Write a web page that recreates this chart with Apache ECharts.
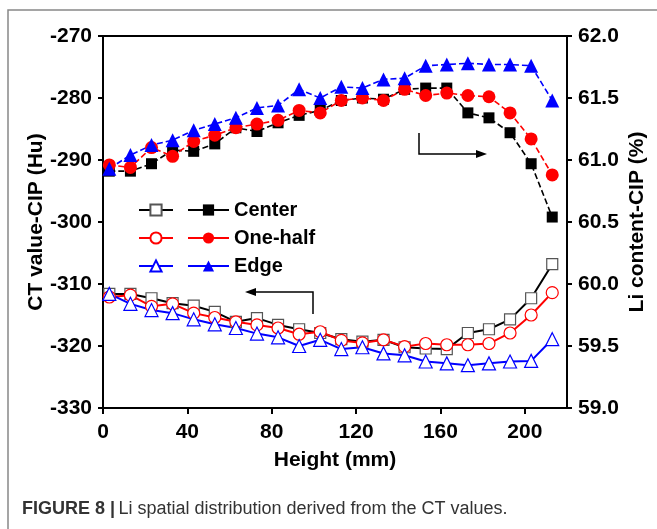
<!DOCTYPE html>
<html>
<head>
<meta charset="utf-8">
<script src="https://cdn.jsdelivr.net/npm/echarts@6/dist/echarts.min.js"></script>
<style>
  html, body { margin: 0; padding: 0; background: #fff; }
  #chart { width: 657px; height: 529px; }
</style>
</head>
<body>
<div id="chart"></div>
<script>
// height along the sample (mm)
var heights = [3, 13, 23, 33, 43, 53, 63, 73, 83, 93, 103, 113, 123, 133, 143, 153, 163, 173, 183, 193, 203, 213]
var xTicks = [0, 40, 80, 120, 160, 200]

// CT value-CIP (Hu), open symbols, left axis
var ctCenter = [-311.6, -311.6, -312.3, -313.1, -313.5, -314.5, -316.1, -315.5, -316.6, -317.3, -317.9, -318.9, -319.3, -319.0, -320.2, -320.4, -320.5, -317.9, -317.3, -315.7, -312.3, -306.8]
var ctHalf = [-312.1, -311.8, -313.6, -313.2, -314.7, -315.4, -316.1, -316.6, -317.1, -318.1, -317.7, -319.1, -319.5, -319.0, -320.1, -319.6, -319.8, -319.8, -319.6, -317.9, -315.0, -311.4]
var ctEdge = [-311.6, -313.2, -314.2, -314.7, -315.7, -316.5, -317.1, -318.0, -318.6, -320.0, -319.0, -320.5, -320.2, -321.2, -321.5, -322.5, -322.8, -323.1, -322.8, -322.5, -322.4, -318.9]

// Li content-CIP (%), filled symbols, right axis
var liCenter = [60.91, 60.91, 60.97, 61.08, 61.07, 61.13, 61.26, 61.23, 61.30, 61.36, 61.40, 61.48, 61.50, 61.49, 61.57, 61.58, 61.58, 61.38, 61.34, 61.22, 60.97, 60.54]
var liHalf = [60.96, 60.94, 61.10, 61.03, 61.15, 61.20, 61.26, 61.29, 61.32, 61.40, 61.38, 61.48, 61.50, 61.48, 61.57, 61.52, 61.54, 61.52, 61.51, 61.38, 61.17, 60.88]
var liEdge = [60.93, 61.04, 61.12, 61.16, 61.24, 61.29, 61.34, 61.42, 61.44, 61.57, 61.50, 61.59, 61.58, 61.65, 61.66, 61.76, 61.77, 61.78, 61.77, 61.77, 61.76, 61.48]

var FONT = 'Liberation Sans, Arial, sans-serif'

function pairs (vals) {
  return heights.map(function (h, i) { return [h, vals[i]] })
}

// open symbol series (CT)
function ctSeries (name, vals, color, symbol, size, border) {
  return {
    name: name,
    type: 'line',
    yAxisIndex: 0,
    data: pairs(vals),
    symbol: symbol,
    symbolSize: size,
    z: 3,
    lineStyle: { color: color, width: 2 },
    itemStyle: { color: '#fff', borderColor: border || color, borderWidth: 1.2 }
  }
}

// filled symbol series (Li), dashed line
function liSeries (name, vals, color, symbol, size) {
  return {
    name: name,
    type: 'line',
    yAxisIndex: 1,
    data: pairs(vals),
    symbol: symbol,
    symbolSize: size,
    z: 4,
    lineStyle: { color: color, width: 1.6, type: [6, 3] },
    itemStyle: { color: color, borderColor: color, borderWidth: 0 }
  }
}

var chart = echarts.init(document.getElementById('chart'))

chart.setOption({
  animation: false,
  backgroundColor: '#fff',
  textStyle: { fontFamily: FONT },
  grid: {
    left: 103, right: 90, top: 36, bottom: 121,
    show: true, borderColor: '#000', borderWidth: 2, backgroundColor: 'transparent'
  },
  legend: [
    {
      data: ['Center ', 'One-half ', 'Edge '],
      orient: 'vertical',
      left: 133, top: 195,
      itemWidth: 34, itemHeight: 14, itemGap: 8,
      formatter: function () { return ' ' },
      textStyle: { fontSize: 20, fontWeight: 'bold' },
      lineStyle: { type: 'solid' },
      selectedMode: false
    },
    {
      data: ['Center', 'One-half', 'Edge'],
      orient: 'vertical',
      left: 182, top: 195,
      itemWidth: 41, itemHeight: 14, itemGap: 8,
      textStyle: { fontSize: 20, fontWeight: 'bold', color: '#000', fontFamily: FONT },
      lineStyle: { type: 'solid' },
      selectedMode: false
    }
  ],
  xAxis: {
    type: 'value',
    min: 0, max: 220, interval: 40,
    name: 'Height (mm)',
    nameLocation: 'middle',
    nameGap: 42,
    nameMoveOverlap: false,
    nameTextStyle: { fontSize: 21, fontWeight: 'bold', color: '#000', fontFamily: FONT },
    axisLine: { lineStyle: { color: '#000', width: 2 } },
    axisTick: { inside: false, length: 6, lineStyle: { width: 2 }, customValues: xTicks },
    axisLabel: { customValues: xTicks, fontSize: 21, fontWeight: 'bold', color: '#000', margin: 14, fontFamily: FONT },
    splitLine: { show: false }
  },
  yAxis: [
    {
      type: 'value',
      position: 'left',
      min: -330, max: -270, interval: 10,
      name: 'CT value-CIP (Hu)',
      nameLocation: 'middle',
      nameRotate: 90,
      nameGap: 56,
      nameMoveOverlap: false,
      nameTextStyle: { fontSize: 21, fontWeight: 'bold', color: '#000', fontFamily: FONT },
      axisLine: { show: true, lineStyle: { color: '#000', width: 2 } },
      axisTick: { show: true, length: 5, lineStyle: { width: 2 } },
      axisLabel: { fontSize: 21, fontWeight: 'bold', color: '#000', margin: 11, fontFamily: FONT },
      splitLine: { show: false }
    },
    {
      type: 'value',
      position: 'right',
      min: 59, max: 62, interval: 0.5,
      name: 'Li content-CIP (%)',
      nameLocation: 'middle',
      nameRotate: 90,
      nameGap: 60,
      nameMoveOverlap: false,
      nameTextStyle: { fontSize: 21, fontWeight: 'bold', color: '#000', fontFamily: FONT },
      axisLine: { show: true, lineStyle: { color: '#000', width: 2 } },
      axisTick: { show: true, length: 5, lineStyle: { width: 2 } },
      axisLabel: {
        fontSize: 21, fontWeight: 'bold', color: '#000', margin: 11, fontFamily: FONT,
        formatter: function (v) { return v.toFixed(1) }
      },
      splitLine: { show: false }
    }
  ],
  series: [
    ctSeries('Center ', ctCenter, '#000', 'rect', 11, '#555'),
    ctSeries('One-half ', ctHalf, '#f00', 'circle', 12),
    ctSeries('Edge ', ctEdge, '#00f', 'triangle', 13),
    liSeries('Center', liCenter, '#000', 'rect', 11),
    liSeries('One-half', liHalf, '#f00', 'circle', 13),
    liSeries('Edge', liEdge, '#00f', 'triangle', 14)
  ],
  graphic: [
    // figure frame
    { type: 'rect', shape: { x: 8, y: 10, width: 700, height: 600 }, style: { fill: 'none', stroke: '#888', lineWidth: 1.5 }, silent: true },
    // arrow towards right axis
    { type: 'polyline', shape: { points: [[419, 133], [419, 154], [478, 154]] }, style: { stroke: '#000', lineWidth: 1.5, fill: null } },
    { type: 'polygon', shape: { points: [[476, 150], [487, 154], [476, 158]] }, style: { fill: '#000' } },
    // arrow towards left axis
    { type: 'polyline', shape: { points: [[313, 314], [313, 292], [254, 292]] }, style: { stroke: '#000', lineWidth: 1.5, fill: null } },
    { type: 'polygon', shape: { points: [[256, 288], [245, 292], [256, 296]] }, style: { fill: '#000' } },
    // caption
    {
      type: 'text', left: 22, top: 500,
      style: {
        text: '{b|FIGURE 8 |} {r|Li spatial distribution derived from the CT values.}',
        rich: {
          b: { fontSize: 18, fontWeight: 'bold', fill: '#333', fontFamily: FONT },
          r: { fontSize: 18, fill: '#333', fontFamily: FONT }
        }
      }
    }
  ]
})
</script>
</body>
</html>
